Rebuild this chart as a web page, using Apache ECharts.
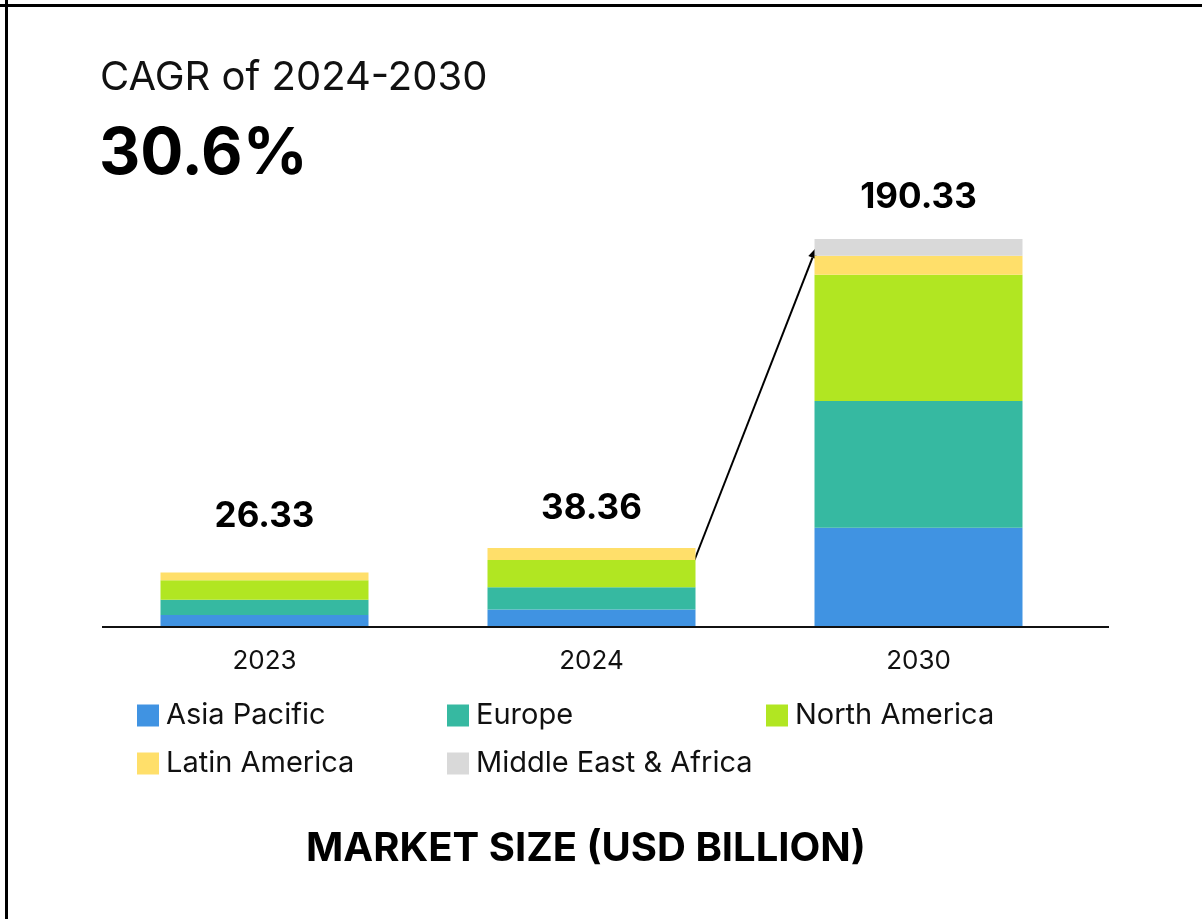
<!DOCTYPE html>
<html>
<head>
<meta charset="utf-8">
<script src="https://cdn.jsdelivr.net/npm/echarts@6/dist/echarts.min.js"></script>
<style>
  html, body { margin: 0; padding: 0; background: #fff; }
  #chart { width: 1202px; height: 919px; }
</style>
</head>
<body>
<div id="chart"></div>
<script>
// Market size by region, USD billion
const years = ['2023', '2024', '2030'];
const regions = ['Asia Pacific', 'Europe', 'North America', 'Latin America', 'Middle East & Africa'];
const asiaPacific = [5.41, 8.14, 48.34];
const europe = [7.49, 10.96, 62.31];
const northAmerica = [9.56, 13.36, 62.12];
const latinAmerica = [3.87, 5.90, 9.34];
const middleEastAfrica = [0, 0, 8.22];
const totals = [26.33, 38.36, 190.33];
const colors = ['#4093e2', '#36b9a1', '#b1e622', '#ffdf6a', '#d9d9d9'];

const FONT = 'Inter, "Noto Sans", sans-serif';
const BAR_W = 208;

const seriesValues = [asiaPacific, europe, northAmerica, latinAmerica, middleEastAfrica];
const chart = echarts.init(document.getElementById('chart'), null, { renderer: 'canvas' });

const barSeries = regions.map((name, i) => ({
  name,
  type: 'bar',
  stack: 'total',
  barWidth: BAR_W,
  itemStyle: { color: colors[i] },
  emphasis: { disabled: true },
  data: seriesValues[i]
}));

// Total labels above each stack
const labelDistances = [38, 22, 24];
const totalSeries = {
  name: 'total',
  type: 'scatter',
  symbolSize: 0,
  silent: true,
  clip: false,
  itemStyle: { opacity: 1 },
  data: totals.map((v, i) => ({
    value: v,
    label: { distance: labelDistances[i] }
  })),
  label: {
    show: true,
    position: 'top',
    fontFamily: FONT,
    fontWeight: 'bold',
    fontSize: 35,
    color: '#000',
    textBorderWidth: 0,
    formatter: p => p.value.toFixed(2)
  }
};

// One legend block per entry so the columns line up
const legendSlots = [
  { left: 137, top: 701 },
  { left: 447, top: 701 },
  { left: 766, top: 701 },
  { left: 137, top: 749 },
  { left: 447, top: 749 }
];
const legends = regions.map((name, i) => ({
  data: [name],
  left: legendSlots[i].left,
  top: legendSlots[i].top,
  padding: 0,
  itemWidth: 22,
  itemHeight: 22,
  itemGap: 0,
  icon: 'rect',
  selectedMode: false,
  textStyle: { fontFamily: FONT, fontSize: 29, color: '#111', padding: [0, 0, 0, 2], lineHeight: 22 }
}));

chart.setOption({
  animation: false,
  backgroundColor: '#fff',
  color: colors,
  title: [
    {
      text: 'CAGR of 2024-2030',
      left: 100, top: 58, padding: 0,
      textStyle: { fontFamily: FONT, fontWeight: 'normal', fontSize: 40, color: '#111' }
    },
    {
      text: '30.6%',
      left: 99, top: 123, padding: 0,
      textStyle: { fontFamily: FONT, fontWeight: 'bold', fontSize: 64, color: '#000' }
    },
    {
      text: 'MARKET SIZE (USD BILLION)',
      left: 586, textAlign: 'center', top: 829, padding: 0,
      textStyle: { fontFamily: FONT, fontWeight: 'bold', fontSize: 40, color: '#000' }
    }
  ],
  legend: legends,
  grid: { left: 101, right: 120, top: 239, bottom: 293 },
  xAxis: {
    type: 'category',
    data: years,
    axisLine: { show: false },
    axisTick: { show: false },
    axisLabel: { fontFamily: FONT, fontSize: 26, color: '#111', margin: 22 }
  },
  yAxis: {
    type: 'value',
    min: 0,
    max: 190.33,
    show: false,
    splitLine: { show: false }
  },
  series: [...barSeries, totalSeries]
});

// Baseline, frame edges and the growth arrow from 2024 to 2030
function drawOverlay() {
  const base = chart.convertToPixel({ gridIndex: 0 }, ['2023', 0]);
  const stack24 = asiaPacific[1] + europe[1] + northAmerica[1];
  const p24 = chart.convertToPixel({ gridIndex: 0 }, ['2024', stack24]);
  const mea30 = totals[2] - middleEastAfrica[2] / 2;
  const p30 = chart.convertToPixel({ gridIndex: 0 }, ['2030', mea30]);
  const x0 = p24[0] + BAR_W / 2 - 1, y0 = p24[1];
  const x1 = p30[0] - BAR_W / 2 + 2, y1 = p30[1];
  const ang = Math.atan2(y1 - y0, x1 - x0);
  const hl = 11, hw = 4.5;
  const bx = x1 - hl * Math.cos(ang), by = y1 - hl * Math.sin(ang);
  const nx = -Math.sin(ang), ny = Math.cos(ang);
  chart.setOption({
    graphic: [
      { type: 'line', shape: { x1: 102, y1: base[1] + 1, x2: 1109, y2: base[1] + 1 }, style: { stroke: '#111', lineWidth: 2 }, silent: true },
      { type: 'line', shape: { x1: 0, y1: 5.5, x2: 1202, y2: 5.5 }, style: { stroke: '#000', lineWidth: 3 }, silent: true },
      { type: 'line', shape: { x1: 6.5, y1: 0, x2: 6.5, y2: 919 }, style: { stroke: '#000', lineWidth: 3 }, silent: true },
      { type: 'line', shape: { x1: x0, y1: y0, x2: bx, y2: by }, style: { stroke: '#000', lineWidth: 2 }, silent: true },
      { type: 'polygon', shape: { points: [[x1, y1], [bx + nx * hw, by + ny * hw], [bx - nx * hw, by - ny * hw]] }, style: { fill: '#000' }, silent: true }
    ]
  });
}
drawOverlay();
</script>
</body>
</html>
